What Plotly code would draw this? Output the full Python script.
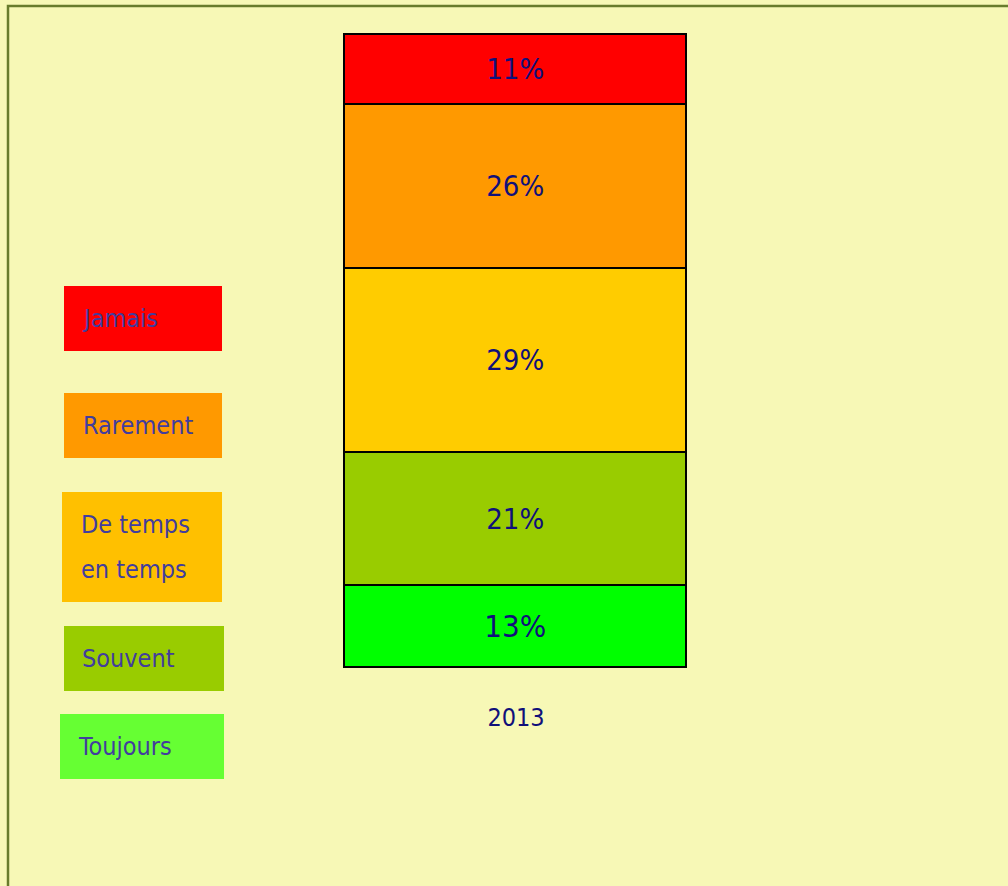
import plotly.graph_objects as go

W, H = 1008, 886

years = ["2013"]
categories = ["Toujours", "Souvent", "De temps en temps", "Rarement", "Jamais"]
values = [13, 21, 29, 26, 11]
bar_colors = ["#00FF00", "#99CC00", "#FFCC00", "#FF9900", "#FF0000"]

legend_labels = ["Jamais", "Rarement", "De temps<br>en temps", "Souvent", "Toujours"]
legend_colors = ["#FF0000", "#FF9900", "#FFC000", "#99CC00", "#66FF33"]

BG = "#F7F8B6"
TEXT_BAR = "#10107A"
TEXT_LEG = "#423D9E"
FONT = "Liberation Sans Narrow, Arial Narrow, DejaVu Sans Condensed, sans-serif"


def px(x):
    return x / W


def py(y):
    return 1 - y / H


# bar area in pixels and padding so outlines are not clipped
BX0, BX1, BY0, BY1, PAD = 345, 687, 35, 668, 6
xa = (BX1 - BX0 + 2 * PAD) / (BX1 - BX0) / 2
ypad = PAD * 100 / (BY1 - BY0)

fig = go.Figure()
for cat, val, col in zip(categories, values, bar_colors):
    fig.add_trace(go.Bar(
        x=years, y=[val], name=cat,
        marker=dict(color=col, line=dict(color="#000000", width=1.6)),
        width=1,
        text=[f"{val}%"],
        texttemplate="%{text}",
        textposition="inside",
        insidetextanchor="middle",
        textangle=0,
        textfont=dict(family=FONT, size=31 if val == 13 else 29, color=TEXT_BAR),
        hoverinfo="skip",
    ))

shapes = [
    dict(type="rect", xref="paper", yref="paper",
         x0=px(8), x1=px(1100), y0=py(6), y1=py(1000),
         line=dict(color="#687C2C", width=2.5), fillcolor="rgba(0,0,0,0)", layer="below"),
]
annotations = []

# legend boxes (left, top, right, bottom) in pixels
boxes = [(64, 286, 222, 351), (64, 393, 222, 458), (62, 492, 222, 602),
         (64, 626, 224, 691), (60, 714, 224, 779)]
text_left = [80, 81, 79, 80, 76]
for lab, col, (l, t, r, b), tl in zip(legend_labels, legend_colors, boxes, text_left):
    shapes.append(dict(type="rect", xref="paper", yref="paper",
                       x0=px(l), x1=px(r), y0=py(b), y1=py(t),
                       line=dict(width=0), fillcolor=col, layer="above"))
    lines = lab.split("<br>")
    n = len(lines)
    cy = (t + b) / 2
    spacing = 45
    for i, ln in enumerate(lines):
        yc = cy + (i - (n - 1) / 2) * spacing
        annotations.append(dict(xref="paper", yref="paper", x=px(tl), y=py(yc),
                                xanchor="left", yanchor="middle", showarrow=False,
                                text=ln, font=dict(family=FONT, size=25, color=TEXT_LEG)))

fig.update_layout(
    width=W, height=H,
    margin=dict(l=0, r=0, t=0, b=0),
    paper_bgcolor=BG, plot_bgcolor=BG,
    barmode="stack",
    showlegend=False,
    bargap=0,
    shapes=shapes,
    annotations=annotations,
    xaxis=dict(domain=[px(BX0 - PAD), px(BX1 + PAD)], range=[-xa, xa], showgrid=False,
               zeroline=False, showline=False, ticks="",
               tickfont=dict(family=FONT, size=25, color=TEXT_BAR),
               ticklabelstandoff=32 - PAD, fixedrange=True),
    yaxis=dict(domain=[py(BY1 + PAD), py(BY0 - PAD)], range=[-ypad, 100 + ypad],
               visible=False, fixedrange=True),
)

fig.write_html("out.html", config={"displayModeBar": False},
               post_script="document.body.style.margin='0';document.body.style.background='%s';" % BG)
